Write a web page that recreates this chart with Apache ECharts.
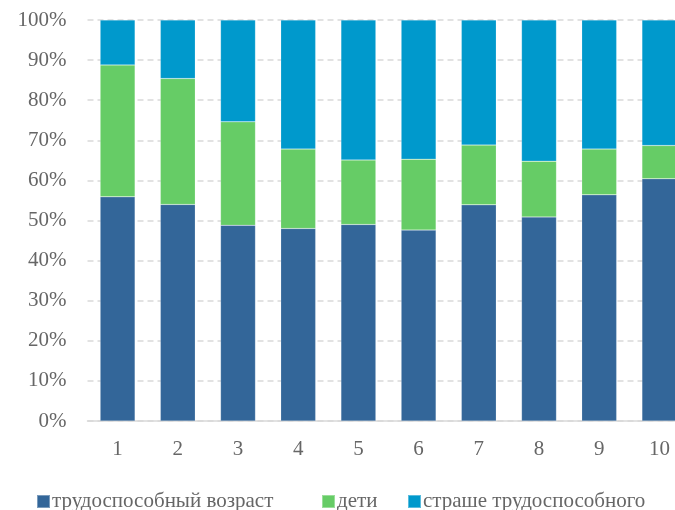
<!DOCTYPE html>
<html><head><meta charset="utf-8">
<script src="https://cdn.jsdelivr.net/npm/echarts@6/dist/echarts.min.js"></script>
<style>html,body{margin:0;padding:0;background:#fff;overflow:hidden}#c{width:690px;height:510px}</style>
</head><body><div id="c"></div>
<script>
const categories = ['1','2','3','4','5','6','7','8','9','10'];
const working = [55.9, 54.0, 48.8, 48.0, 49.0, 47.6, 53.9, 50.9, 56.4, 60.4];
const children = [32.9, 31.4, 25.8, 19.8, 16.1, 17.7, 14.9, 13.9, 11.4, 8.3];
const elderly = [11.2, 14.6, 25.4, 32.2, 34.9, 34.7, 31.2, 35.2, 32.2, 31.3];
const names = ['трудоспособный возраст', 'дети', 'страше трудоспособного'];
const colors = ['#336699', '#66cc66', '#0099cc'];
const font = 'Liberation Serif';
const chart = echarts.init(document.getElementById('c'));
const mk = (name, data, color) => ({
  name, type: 'bar', stack: 'a', data, barCategoryGap: '42%',
  itemStyle: {color, borderColor: 'rgba(255,255,255,0.35)', borderWidth: 0.5}
});
const legendPos = [36, 321, 407];
const mkLegend = (i) => ({
  top: 491, left: legendPos[i], itemWidth: 13, itemHeight: 13, itemGap: 0,
  icon: 'rect', padding: 0,
  textStyle: {fontFamily: font, fontSize: 21, color: '#666666', padding: [0,0,0,-3]},
  data: [names[i]]
});
chart.setOption({
  animation: false,
  color: colors,
  grid: {left: 87.5, right: 0.5, top: 20, bottom: 89, containLabel: false},
  legend: [mkLegend(0), mkLegend(1), mkLegend(2)],
  xAxis: {
    type: 'category', data: categories,
    axisLine: {lineStyle: {color: '#d9d9d9', width: 1.5}},
    axisTick: {show: false},
    axisLabel: {fontFamily: font, fontSize: 21, color: '#666666', margin: 18}
  },
  yAxis: {
    type: 'value', min: 0, max: 100, interval: 10,
    axisLabel: {formatter: '{value}%', fontFamily: font, fontSize: 21, color: '#666666', margin: 21},
    splitLine: {lineStyle: {color: '#d9d9d9', type: [6, 4], width: 1.5}},
    axisLine: {show: false}, axisTick: {show: false}
  },
  series: [mk(names[0], working, colors[0]), mk(names[1], children, colors[1]), mk(names[2], elderly, colors[2])]
});
</script></body></html>
